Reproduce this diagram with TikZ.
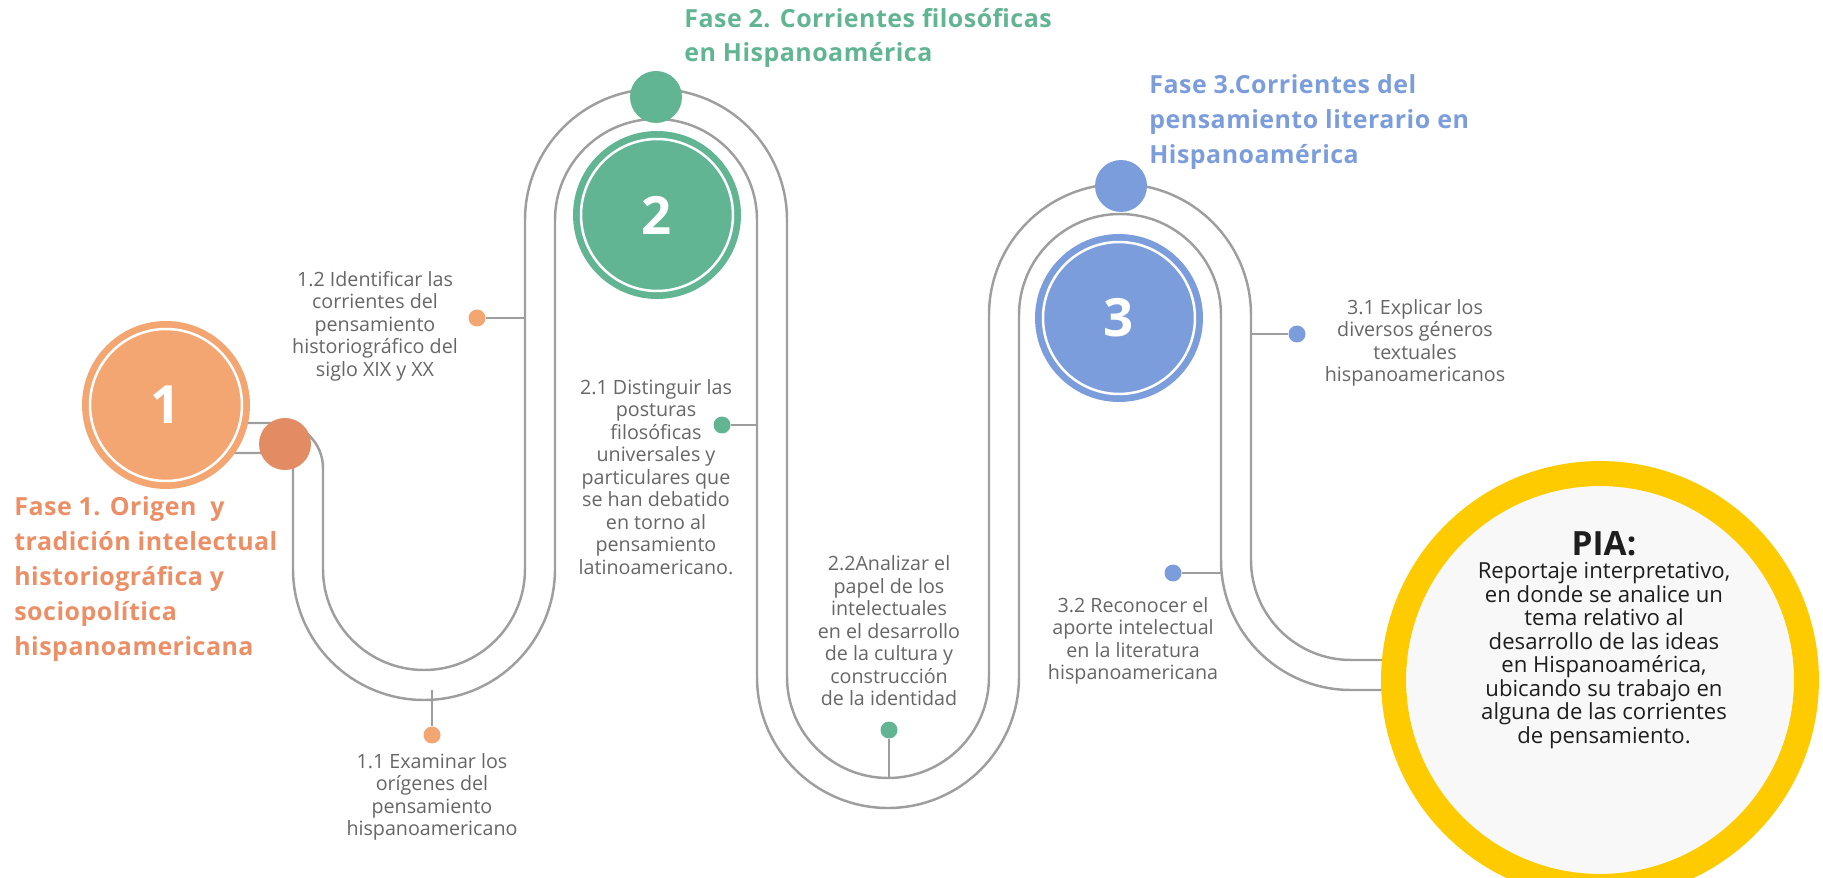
\documentclass[tikz,border=0pt]{standalone}
\usepackage{fontspec}
\setmainfont{Open Sans}
\newfontfamily\fasefont[LetterSpace=2]{Open Sans}
\usetikzlibrary{positioning}

\definecolor{naranja}{HTML}{F4A672}
\definecolor{naranjaosc}{HTML}{E38B63}
\definecolor{fasenaranja}{HTML}{EC8F66}
\definecolor{verde}{HTML}{62B592}
\definecolor{azul}{HTML}{7C9DDC}
\definecolor{amarillo}{HTML}{FECB00}
\definecolor{relleno}{HTML}{F8F8F8}
\definecolor{gris}{HTML}{9E9E9E}
\definecolor{grisletra}{HTML}{666666}
\definecolor{negro}{HTML}{1E1E1E}

\tikzset{
  pista/.style={draw=gris,line width=1.4pt},
  rama/.style={draw=gris,line width=1.4pt},
  bola/.style={circle,fill=#1,draw=white,line width=0.05cm,minimum size=3.04cm,
    preaction={draw=#1,line width=0.32cm},text=white,font=\fontsize{30}{30}\selectfont\bfseries},
  perilla/.style={circle,fill=#1,minimum size=1.04cm,inner sep=0pt},
  punto/.style={circle,fill=#1,minimum size=0.34cm,inner sep=0pt},
  texto/.style={align=center,inner sep=0pt,text=grisletra,font=\fontsize{11.2}{12.8}\selectfont},
  fase/.style={align=left,inner sep=0pt,anchor=west,text=#1,font=\fasefont\fontsize{14.2}{19.8}\selectfont\bfseries}
}

\begin{document}
\begin{tikzpicture}[x=0.02cm,y=0.02cm]
\useasboundingbox (0,0) rectangle (1823,-878);
\clip (0,0) rectangle (1823,-878);

\draw[pista] (160,-423) -- (278,-423) arc[start angle=90,end angle=0,radius=45] -- (323,-569)
  arc[start angle=180,end angle=360,radius=101] -- (525,-220)
  arc[start angle=180,end angle=0,radius=131] -- (787,-677)
  arc[start angle=180,end angle=360,radius=101] -- (989,-315)
  arc[start angle=180,end angle=0,radius=131] -- (1251,-560)
  arc[start angle=180,end angle=270,radius=100] -- (1420,-660);
\draw[pista] (160,-453) -- (278,-453) arc[start angle=90,end angle=0,radius=15] -- (293,-569)
  arc[start angle=180,end angle=360,radius=131] -- (555,-220)
  arc[start angle=180,end angle=0,radius=101] -- (757,-677)
  arc[start angle=180,end angle=360,radius=131] -- (1019,-315)
  arc[start angle=180,end angle=0,radius=101] -- (1221,-560)
  arc[start angle=180,end angle=270,radius=130] -- (1420,-690);

\coordinate (p11) at (432,-690);
\coordinate (p12) at (525,-318);
\coordinate (p21) at (757,-425);
\coordinate (p22) at (889,-778);
\coordinate (p31) at (1251,-334);
\coordinate (p32) at (1221,-573);

\node[bola=naranja] (c1) at (166,-405) {1};
\node[bola=verde] (c2) at (657,-215) {2};
\node[bola=azul] (c3) at (1119,-318) {3};
\node[perilla=naranjaosc] (k1) at (285,-444) {};
\node[perilla=verde] (k2) at (656,-97) {};
\node[perilla=azul] (k3) at (1121,-186) {};

\node[punto=naranja] (d11) at (432,-735) {};
\node[punto=naranja] (d12) at (477,-318) {};
\node[punto=verde] (d21) at (722,-425) {};
\node[punto=verde] (d22) at (889,-730) {};
\node[punto=azul] (d31) at (1297,-334) {};
\node[punto=azul] (d32) at (1173,-573) {};
\draw[rama] (p11) -- (d11);
\draw[rama] (p12) -- (d12);
\draw[rama] (p21) -- (d21);
\draw[rama] (p22) -- (d22);
\draw[rama] (p31) -- (d31);
\draw[rama] (p32) -- (d32);

\node[texto] (t11) at (432,-797) {1.1 Examinar los\\orígenes del\\pensamiento\\hispanoamericano};
\node[texto] (t12) at (375,-326) {1.2 Identificar las\\corrientes del\\pensamiento\\historiográfico del\\siglo XIX y XX};
\node[texto] (t21) at (656,-477) {2.1 Distinguir las\\posturas\\filosóficas\\universales y\\particulares que\\se han debatido\\en torno al\\pensamiento\\latinoamericano.};
\node[texto] (t22) at (889,-631) {2.2Analizar el\\papel de los\\intelectuales\\en el desarrollo\\de la cultura y\\construcción\\de la identidad};
\node[texto] (t31) at (1415,-343) {3.1 Explicar los\\diversos géneros\\textuales\\hispanoamericanos};
\node[texto] (t32) at (1133,-641) {3.2 Reconocer el\\aporte intelectual\\en la literatura\\hispanoamericana};

\node[fase=fasenaranja] (f1) at (14,-579) {Fase 1. Origen \ y\\tradición intelectual\\historiográfica y\\sociopolítica\\hispanoamericana};
\node[fase=verde] (f2) at (684,-38) {Fase 2. Corrientes filosóficas\\en Hispanoamérica};
\node[fase=azul] (f3) at (1149,-122) {Fase 3.Corrientes del\\pensamiento literario en\\Hispanoamérica};

\node[circle,draw=amarillo,fill=relleno,line width=0.5cm,minimum size=8.26cm] (pia) at (1600,-680) {};
\node[align=center,inner sep=0pt,text=negro,font=\fontsize{12.6}{13.4}\selectfont] (piatxt) at (1604,-640)
  {{\fontsize{19}{21}\selectfont\bfseries PIA:}\\Reportaje interpretativo,\\en donde se analice un\\tema relativo al\\desarrollo de las ideas\\en Hispanoamérica,\\ubicando su trabajo en\\alguna de las corrientes\\de pensamiento.};
\end{tikzpicture}
\end{document}
